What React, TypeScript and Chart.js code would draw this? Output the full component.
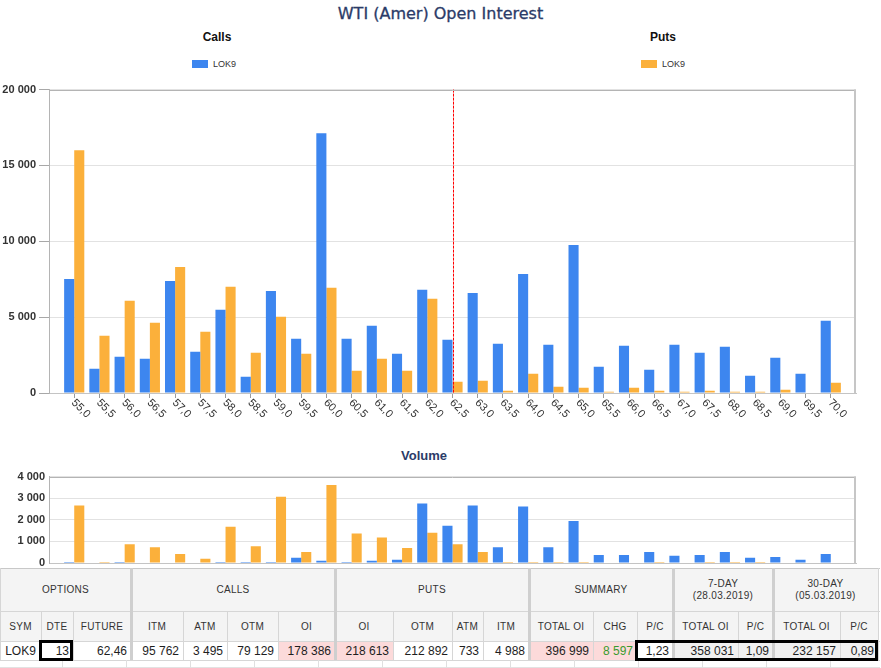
import React, { useEffect, useRef } from "react";
import { Chart, registerables } from "chart.js";

Chart.register(...registerables);

// ---------- DATA ----------
const strikes = [
  55.0, 55.5, 56.0, 56.5, 57.0, 57.5, 58.0, 58.5, 59.0, 59.5, 60.0, 60.5, 61.0, 61.5, 62.0,
  62.5, 63.0, 63.5, 64.0, 64.5, 65.0, 65.5, 66.0, 66.5, 67.0, 67.5, 68.0, 68.5, 69.0, 69.5, 70.0,
];
const callsOI = [
  7520, 1600, 2390, 2260, 7390, 2720, 5480, 1075, 6730, 3575, 17130, 3575, 4430, 2590, 6800,
  3510, 6600, 3245, 7850, 3180, 9760, 1730, 3115, 1535, 3180, 2650, 3050, 1140, 2325, 1270, 4760,
];
const putsOI = [
  16010, 3770, 6075, 4630, 8310, 4035, 7000, 2650, 5020, 2590, 6930, 1470, 2260, 1470, 6205,
  745, 810, 150, 1270, 415, 350, 90, 350, 150, 90, 150, 90, 90, 220, 0, 680,
];
const callsVolume = [
  50, 0, 50, 0, 0, 0, 50, 50, 50, 240, 100, 50, 100, 150, 2755,
  1720, 2665, 730, 2620, 730, 1945, 370, 370, 510, 330, 370, 510, 240, 280, 150, 420,
];
const putsVolume = [
  2665, 50, 870, 730, 420, 200, 1675, 780, 3070, 510, 3610, 1360, 1180, 690, 1400,
  870, 510, 50, 50, 50, 50, 0, 0, 50, 0, 50, 50, 50, 0, 0, 0,
];
const oiTickValues = [0, 5000, 10000, 15000, 20000];
const volumeTickValues = [0, 1000, 2000, 3000, 4000];
const atmStrike = 62.5;
const seriesName = "LOK9";

const chartTitle = "WTI (Amer) Open Interest";
const volumeTitle = "Volume";
const sideTitles = ["Calls", "Puts"];

const groupHeaders = [
  { lines: ["OPTIONS"], from: 0, to: 3 },
  { lines: ["CALLS"], from: 3, to: 7 },
  { lines: ["PUTS"], from: 7, to: 11 },
  { lines: ["SUMMARY"], from: 11, to: 14 },
  { lines: ["7-DAY", "(28.03.2019)"], from: 14, to: 16 },
  { lines: ["30-DAY", "(05.03.2019)"], from: 16, to: 18 },
];
const columnHeaders = [
  "SYM", "DTE", "FUTURE", "ITM", "ATM", "OTM", "OI", "OI", "OTM", "ATM", "ITM",
  "TOTAL OI", "CHG", "P/C", "TOTAL OI", "P/C", "TOTAL OI", "P/C",
];
const rowValues = [
  "LOK9", "13", "62,46", "95 762", "3 495", "79 129", "178 386", "218 613", "212 892", "733", "4 988",
  "396 999", "8 597", "1,23", "358 031", "1,09", "232 157", "0,89",
];

// ---------- STYLE ----------
const CALL_COLOR = "#3d86ef";
const PUT_COLOR = "#fbb03b";
const NAVY = "#2b3b68";

const fmtThousands = (v: number) => String(Math.round(v)).replace(/\B(?=(\d{3})+(?!\d))/g, " ");
const fmtStrike = (v: number) => v.toFixed(1).replace(".", ",");

type BarChartProps = {
  calls: number[];
  puts: number[];
  ticks: number[];
  width: number;
  height: number;
  padTop: number;
  xAxisHeight: number;
  tickLength: number;
  labelPad: number;
  showStrikeLabels: boolean;
  showAtm: boolean;
};

function BarChart(p: BarChartProps) {
  const ref = useRef<HTMLCanvasElement>(null);
  useEffect(() => {
    const canvas = ref.current!;
    const frame = {
      id: "frame",
      afterDraw(chart: any) {
        const { ctx, chartArea } = chart;
        const { left, top, right, bottom } = chartArea;
        ctx.save();
        ctx.strokeStyle = "#b4b4b4";
        ctx.lineWidth = 1;
        ctx.beginPath();
        ctx.moveTo(left, Math.round(top) + 0.5);
        ctx.lineTo(right, Math.round(top) + 0.5);
        ctx.stroke();
        ctx.strokeStyle = "#c6c6c6";
        ctx.lineWidth = 2;
        ctx.beginPath();
        ctx.moveTo(Math.round(right) - 1, top);
        ctx.lineTo(Math.round(right) - 1, bottom);
        ctx.stroke();
        ctx.restore();
      },
    };
    const atm = {
      id: "atm",
      afterDatasetsDraw(chart: any) {
        if (!p.showAtm) return;
        const { ctx, chartArea } = chart;
        const x = Math.round(chart.scales.x.getPixelForValue(atmStrike)) + 0.5;
        ctx.save();
        ctx.strokeStyle = "#ff0000";
        ctx.lineWidth = 1;
        ctx.setLineDash([3, 1]);
        ctx.beginPath();
        ctx.moveTo(x, chartArea.top);
        ctx.lineTo(x, chartArea.bottom);
        ctx.stroke();
        ctx.restore();
      },
    };
    const strikeLabels = {
      id: "strikeLabels",
      afterDraw(chart: any) {
        if (!p.showStrikeLabels) return;
        const { ctx } = chart;
        const sx = chart.scales.x;
        ctx.save();
        ctx.font = '11px "Liberation Sans", Arial, sans-serif';
        ctx.fillStyle = "#333";
        ctx.textAlign = "left";
        ctx.textBaseline = "middle";
        strikes.forEach((v) => {
          const x = sx.getPixelForValue(v);
          ctx.save();
          ctx.translate(x - 1, sx.top + 8);
          ctx.rotate(Math.PI / 4);
          ctx.fillText(fmtStrike(v), 0, 0);
          ctx.restore();
        });
        ctx.restore();
      },
    };
    const yMax = p.ticks[p.ticks.length - 1];
    const chart = new Chart(canvas, {
      type: "bar",
      data: {
        datasets: [
          {
            label: seriesName,
            data: strikes.map((s, i) => ({ x: s, y: p.calls[i] })),
            backgroundColor: CALL_COLOR,
            categoryPercentage: 0.8,
            barPercentage: 1,
          },
          {
            label: seriesName,
            data: strikes.map((s, i) => ({ x: s, y: p.puts[i] })),
            backgroundColor: PUT_COLOR,
            categoryPercentage: 0.8,
            barPercentage: 1,
          },
        ],
      },
      options: {
        animation: false,
        responsive: false,
        devicePixelRatio: 1,
        layout: { padding: { top: p.padTop, right: 25, left: 0, bottom: 0 } },
        plugins: { legend: { display: false }, tooltip: { enabled: false }, title: { display: false } },
        scales: {
          x: {
            type: "linear",
            min: strikes[0] - 0.5,
            max: strikes[strikes.length - 1] + 0.5,
            offset: false,
            afterBuildTicks: (s: any) => {
              s.ticks = strikes.map((v) => ({ value: v }));
            },
            ticks: { display: false },
            grid: {
              display: p.showStrikeLabels,
              offset: false,
              drawOnChartArea: false,
              drawTicks: true,
              tickLength: 5,
              tickColor: "#9a9a9a",
            },
            border: { display: true, color: "#c4c4c4" },
            afterFit: (s: any) => {
              s.height = p.xAxisHeight;
            },
          } as any,
          y: {
            min: 0,
            max: yMax,
            afterBuildTicks: (s: any) => {
              s.ticks = p.ticks.map((v) => ({ value: v }));
            },
            ticks: {
              color: "#333",
              padding: p.labelPad,
              font: { family: '"Liberation Sans", Arial, sans-serif', size: 11, weight: "bold" },
              callback: (v: any) => fmtThousands(Number(v)),
            },
            grid: {
              color: "#e2e2e2",
              drawTicks: p.tickLength > 0,
              tickLength: p.tickLength,
              tickColor: "#a8a8a8",
            },
            border: { display: true, color: "#b4b4b4" },
            afterFit: (s: any) => {
              s.width = 49;
            },
          } as any,
        },
      },
      plugins: [frame, atm, strikeLabels],
    } as any);
    return () => chart.destroy();
  }, []);
  return (
    <canvas
      ref={ref}
      width={p.width}
      height={p.height}
      style={{ display: "block", width: p.width, height: p.height }}
    />
  );
}

// ---------- TABLE ----------
const tableEdges = [0, 41, 73, 131, 183, 227, 278, 335, 393, 452, 483, 529, 593, 637, 673, 738, 773, 840, 878];
const thickEdgeIdx = [3, 7, 11, 14, 16];
const rowEdges = [0, 43, 73, 92, 100];
const pinkCols = [6, 7, 11, 12];
const grayCols = [14, 15, 16, 17];
const greenCols = [12];
const outlinedRanges = [
  [1, 2],
  [13, 18],
];
const lowerRowEdges = [62, 126, 190, 254, 318, 382, 446, 510, 574, 638, 702, 766, 830];

function OptionsTable() {
  const cells: React.ReactNode[] = [];
  const font = '"Liberation Sans", Arial, sans-serif';
  groupHeaders.forEach((g, i) => {
    cells.push(
      <div
        key={"g" + i}
        style={{
          position: "absolute",
          left: tableEdges[g.from],
          width: tableEdges[g.to] - tableEdges[g.from],
          top: rowEdges[0],
          height: rowEdges[1] - rowEdges[0],
          background: "#f4f4f4",
          display: "flex",
          flexDirection: "column",
          alignItems: "center",
          justifyContent: "center",
          fontSize: 10,
          lineHeight: "12px",
          color: "#333",
          letterSpacing: 0.3,
          fontFamily: font,
        }}
      >
        {g.lines.map((l, j) => (
          <div key={j}>{l}</div>
        ))}
      </div>
    );
  });
  columnHeaders.forEach((h, i) => {
    cells.push(
      <div
        key={"h" + i}
        style={{
          position: "absolute",
          left: tableEdges[i],
          width: tableEdges[i + 1] - tableEdges[i],
          top: rowEdges[1],
          height: rowEdges[2] - rowEdges[1],
          background: "#f4f4f4",
          display: "flex",
          alignItems: "center",
          justifyContent: "center",
          fontSize: 10,
          color: "#333",
          letterSpacing: 0.3,
          fontFamily: font,
        }}
      >
        {h}
      </div>
    );
  });
  rowValues.forEach((v, i) => {
    const bg = pinkCols.includes(i) ? "#fcdada" : grayCols.includes(i) ? "#f0f0f0" : "#fff";
    cells.push(
      <div
        key={"v" + i}
        style={{
          position: "absolute",
          left: tableEdges[i],
          width: tableEdges[i + 1] - tableEdges[i],
          top: rowEdges[2],
          height: rowEdges[3] - rowEdges[2],
          background: bg,
          display: "flex",
          alignItems: "center",
          justifyContent: i === 0 ? "center" : "flex-end",
          paddingRight: i === 0 ? 0 : 4,
          boxSizing: "border-box",
          fontSize: 12,
          color: greenCols.includes(i) ? "#3a9a2e" : "#1e1e1e",
          fontFamily: font,
        }}
      >
        {v}
      </div>
    );
  });
  const hLines = [
    { y: 0, c: "#c8c8c8" },
    { y: rowEdges[1], c: "#d6d6d6" },
    { y: rowEdges[2], c: "#d6d6d6" },
    { y: rowEdges[3], c: "#d6d6d6" },
    { y: 99, c: "#e2e2e2" },
  ];
  hLines.forEach((l, i) =>
    cells.push(
      <div
        key={"hl" + i}
        style={{ position: "absolute", left: 0, width: 880, top: l.y, height: 1, background: l.c }}
      />
    )
  );
  tableEdges.forEach((x, i) => {
    const thick = thickEdgeIdx.includes(i);
    const outer = i === 0 || i === tableEdges.length - 1;
    const top = thick || outer ? 0 : rowEdges[1];
    cells.push(
      <div
        key={"vl" + i}
        style={{
          position: "absolute",
          left: thick ? x - 1 : x === 0 ? 0 : x,
          width: thick ? 3 : 1,
          top,
          height: rowEdges[3] - top,
          background: thick ? "#cfcfcf" : "#d6d6d6",
        }}
      />
    );
  });
  lowerRowEdges.forEach((x, i) =>
    cells.push(
      <div
        key={"ll" + i}
        style={{ position: "absolute", left: x, width: 1, top: rowEdges[3], height: 8, background: "#e0e0e0" }}
      />
    )
  );
  outlinedRanges.forEach(([a, b], i) =>
    cells.push(
      <div
        key={"o" + i}
        style={{
          position: "absolute",
          left: tableEdges[a] - 2,
          width: tableEdges[b] - tableEdges[a] + 2,
          top: rowEdges[2] - 1,
          height: rowEdges[3] - rowEdges[2] + 2,
          border: "3px solid #000",
          boxSizing: "border-box",
        }}
      />
    )
  );
  return (
    <div
      style={{ position: "absolute", left: 0, top: 568, width: 881, height: 100, background: "#fff", zIndex: 2 }}
    >
      {cells}
    </div>
  );
}

// ---------- APP ----------
const legendColors = [CALL_COLOR, PUT_COLOR];
const sideCenters = [217, 663];
const legendLefts = [192, 641];

export default function App() {
  return (
    <div
      style={{
        position: "absolute",
        left: 0,
        top: 0,
        width: 881,
        height: 668,
        background: "#fff",
        overflow: "hidden",
        fontFamily: '"Liberation Sans", Arial, sans-serif',
      }}
    >
      <div
        style={{
          position: "absolute",
          left: 0,
          width: 881,
          top: 3,
          lineHeight: "22px",
          textAlign: "center",
          fontFamily: '"DejaVu Sans", sans-serif',
          fontSize: 16,
          color: NAVY,
          WebkitTextStroke: "0.3px " + NAVY,
        }}
      >
        {chartTitle}
      </div>
      {sideTitles.map((t, i) => (
        <div
          key={t}
          style={{
            position: "absolute",
            left: sideCenters[i] - 60,
            width: 120,
            top: 29,
            lineHeight: "16px",
            textAlign: "center",
            fontWeight: "bold",
            fontSize: 12,
            color: "#111",
          }}
        >
          {t}
        </div>
      ))}
      {legendColors.map((c, i) => (
        <div
          key={c}
          style={{ position: "absolute", left: legendLefts[i], top: 58, height: 12, display: "flex", alignItems: "center" }}
        >
          <div style={{ width: 16, height: 8, background: c }} />
          <div style={{ fontSize: 9, color: "#333", marginLeft: 5, lineHeight: "12px" }}>{seriesName}</div>
        </div>
      ))}
      <div style={{ position: "absolute", left: 0, top: 80 }}>
        <BarChart
          calls={callsOI}
          puts={putsOI}
          ticks={oiTickValues}
          width={881}
          height={355}
          padTop={9}
          xAxisHeight={42}
          tickLength={10}
          labelPad={3}
          showStrikeLabels={true}
          showAtm={true}
        />
      </div>
      <div
        style={{
          position: "absolute",
          left: 364,
          width: 120,
          top: 448,
          lineHeight: "16px",
          textAlign: "center",
          fontWeight: "bold",
          fontSize: 13,
          color: NAVY,
        }}
      >
        {volumeTitle}
      </div>
      <div style={{ position: "absolute", left: 0, top: 466 }}>
        <BarChart
          calls={callsVolume}
          puts={putsVolume}
          ticks={volumeTickValues}
          width={881}
          height={110}
          padTop={8}
          xAxisHeight={13}
          tickLength={0}
          labelPad={4}
          showStrikeLabels={false}
          showAtm={false}
        />
      </div>
      <OptionsTable />
    </div>
  );
}
